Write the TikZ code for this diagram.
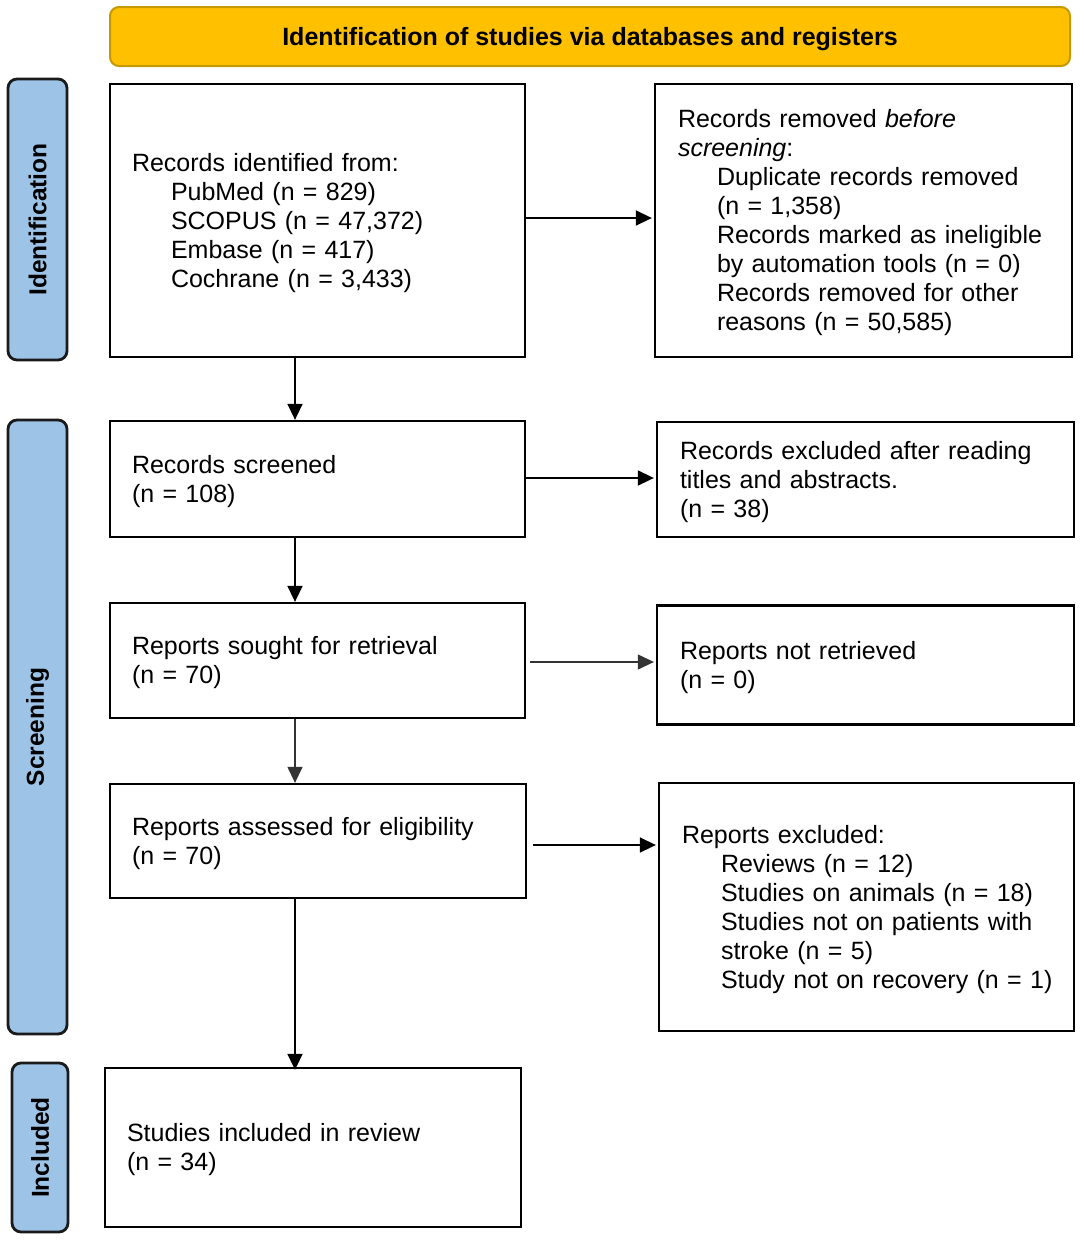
\documentclass[tikz,border=0pt]{standalone}
\usepackage{fontspec}
\setmainfont{Liberation Sans}
\usetikzlibrary{arrows.meta}
\definecolor{gold}{HTML}{FFC000}
\definecolor{goldedge}{HTML}{C49A00}
\definecolor{lblue}{HTML}{9DC3E6}
\definecolor{ledge}{HTML}{1A1A1A}
\newcommand\ind{\hspace*{39pt}}
\newcommand\lines[1]{\raisebox{-3pt}[\height][\depth]{\begin{tabular}{@{}l@{}}#1\end{tabular}}}
\begin{document}
\begin{tikzpicture}[x=1pt,y=-1pt,
  box/.style={draw=black,line width=2.3pt,rectangle,inner xsep=22pt,inner ysep=0pt,align=left,
    font=\fontsize{25}{29}\selectfont},
  phase/.style={draw=ledge,fill=lblue,line width=2.8pt,rounded corners=9pt,rotate=90,
    font=\fontsize{24.5}{28}\selectfont\bfseries,inner sep=0pt},
  arr/.style={line width=1.6pt,-{Triangle[length=16pt,width=15pt]}},
  thinarr/.style={line width=1.2pt,draw=black!80,-{Triangle[length=16pt,width=15pt]}}]
\useasboundingbox (0,0) rectangle (1084,1240);
\fill[white] (0,0) rectangle (1084,1240);

\node[draw=goldedge,fill=gold,line width=2pt,rounded corners=9pt,minimum width=960pt,minimum height=59pt,
  font=\fontsize{25}{29}\selectfont\bfseries,inner sep=0pt] (title) at (590,36.5)
  {\raisebox{-9pt}[0pt][0pt]{Identification of studies via databases and registers}};

\node[phase,minimum width=281pt,minimum height=59pt] (pid) at (37.5,219.5) {Identification};
\node[phase,minimum width=614pt,minimum height=59pt] (psc) at (37.5,727) {Screening};
\node[phase,minimum width=169pt,minimum height=56pt] (pin) at (40,1147.5) {Included};

\node[box,text width=371pt,minimum height=273pt] (b1) at (317.5,220.5)
  {\lines{Records identified from:\\\ind PubMed (n = 829)\\\ind SCOPUS (n = 47,372)\\\ind Embase (n = 417)\\\ind Cochrane (n = 3,433)}};
\node[box,text width=371pt,minimum height=273pt,inner xsep=23pt] (brem) at (863.5,220.5)
  {\lines{Records removed \textit{before}\\\textit{screening}:\\\ind Duplicate records removed\\\ind (n = 1,358)\\\ind Records marked as ineligible\\\ind by automation tools (n = 0)\\\ind Records removed for other\\\ind reasons (n = 50,585)}};
\node[box,text width=371pt,minimum height=116pt] (b2) at (317.5,479)
  {\lines{Records screened\\(n = 108)}};
\node[box,text width=371pt,minimum height=115pt,inner xsep=23pt] (bex1) at (865.5,479.5)
  {\lines{Records excluded after reading\\titles and abstracts.\\(n = 38)}};
\node[box,text width=371pt,minimum height=115pt] (b3) at (317.5,660.5)
  {\lines{Reports sought for retrieval\\(n = 70)}};
\node[box,text width=371pt,minimum height=119pt,inner xsep=23pt] (bnr) at (865.5,665)
  {\lines{Reports not retrieved\\(n = 0)}};
\node[box,text width=372pt,minimum height=114pt] (b4) at (318,841)
  {\lines{Reports assessed for eligibility\\(n = 70)}};
\node[box,text width=369pt,minimum height=248pt,inner xsep=23pt] (bex2) at (866.5,907)
  {\lines{Reports excluded:\\\ind Reviews (n = 12)\\\ind Studies on animals (n = 18)\\\ind Studies not on patients with\\\ind stroke (n = 5)\\\ind Study not on recovery (n = 1)}};
\node[box,text width=372pt,minimum height=159pt] (b5) at (313,1147.5)
  {\lines{Studies included in review\\(n = 34)}};

\coordinate (col) at (295,0);
\draw[arr] (b1.south -| col) -- (b2.north -| col);
\draw[arr] (b2.south -| col) -- (b3.north -| col);
\draw[thinarr] (b3.south -| col) -- (b4.north -| col);
\draw[arr] (b4.south -| col) -- ([yshift=-3pt]b5.north -| col);

\draw[arr] (b1.east |- 0,218) -- ([xshift=-2pt]brem.west |- 0,218);
\draw[arr] (b2.east |- 0,478) -- ([xshift=-2pt]bex1.west |- 0,478);
\draw[thinarr,shorten <=4pt] (b3.east |- 0,662) -- ([xshift=-2pt]bnr.west |- 0,662);
\draw[arr,shorten <=6pt] (b4.east |- 0,845) -- ([xshift=-2pt]bex2.west |- 0,845);
\end{tikzpicture}
\end{document}
